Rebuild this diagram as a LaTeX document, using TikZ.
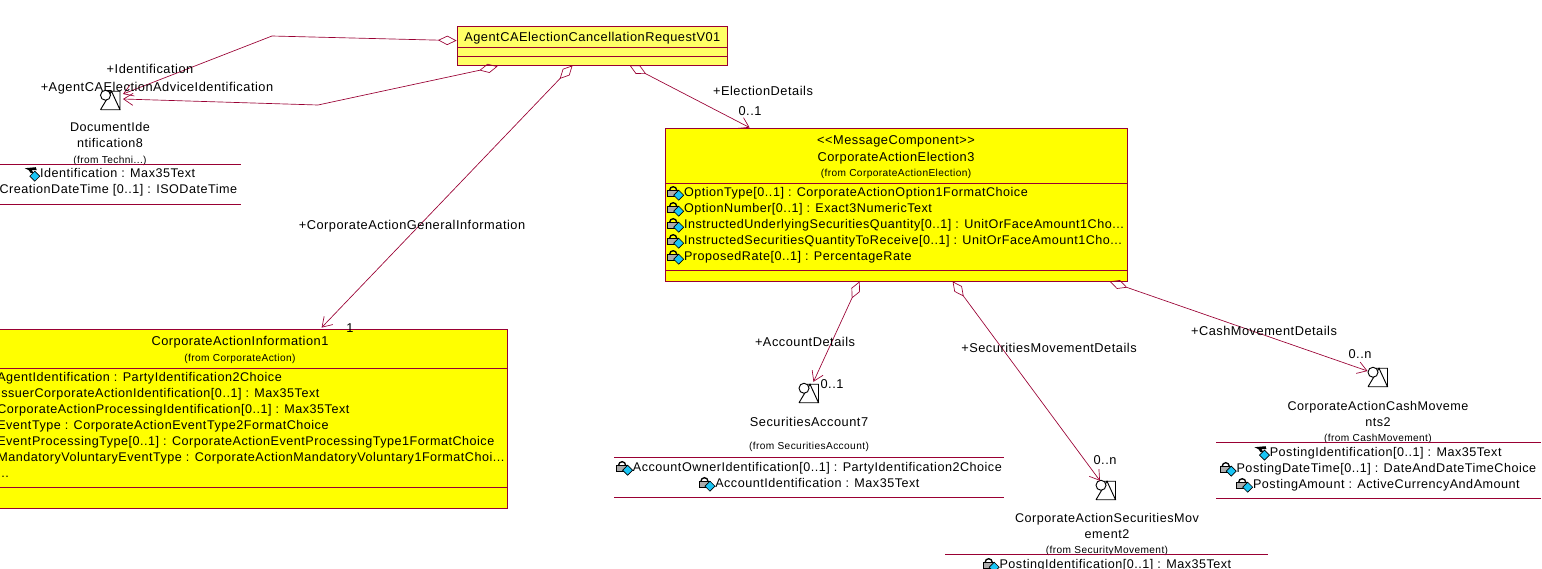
\documentclass[tikz,border=0pt]{standalone}
\usepackage{fontspec}
\setmainfont[LetterSpace=4]{Liberation Sans}
\usepackage{xcolor}
\usetikzlibrary{calc,arrows.meta}
\definecolor{maroon}{HTML}{990033}
\definecolor{classfill}{HTML}{FFFF00}
\definecolor{rootfill}{HTML}{FFFF66}
\definecolor{tagblue}{HTML}{19C5F5}
\newcommand{\tagdiamond}{\fill[tagblue,draw=black,line width=.5pt] (11,4) -- (16,9) -- (11,14) -- (6,9) -- cycle;}
\newcommand{\lockicon}{%
  \smash{\tikz[x=.75pt,y=-.75pt,baseline={(0,10)}]{
    \draw[line width=1pt] (2,4) arc[start angle=180,end angle=360,radius=3.5];
    \fill[gray!65,draw=black,line width=.6pt] (0,4) rectangle (11,10);
    \tagdiamond}}}
\newcommand{\haticon}{%
  \smash{\tikz[x=.75pt,y=-.75pt,baseline={(0,10)}]{
    \fill[black] (1,1) -- (12,0) -- (13,3) -- (8,3) -- (10,6) -- (7,6) -- (5,3) -- cycle;
    \tagdiamond}}}
\newcommand{\utilityicon}{%
  \tikz[x=.75pt,y=-.75pt]{
    \draw[line width=.7pt] (8,1) -- (19.5,1) -- (19.5,19.5) (0,19.5) -- (20,19.5)
      (0,19.5) -- (11,1) -- (19.5,19.5);
    \fill[white,draw=black,line width=.7pt] (5,5) circle[radius=5];}}
\tikzset{
  umltext/.style={font=\fontsize{9.6}{12}\selectfont,inner sep=0pt,yshift=-.6pt},
  attrlist/.style={umltext,font=\fontsize{9.45}{12}\selectfont,align=left,anchor=north west},
  attrmid/.style={umltext,font=\fontsize{9.45}{12}\selectfont,align=center,anchor=north},
  fromtext/.style={font=\fontsize{7.6}{9}\selectfont,inner sep=0pt,yshift=-.6pt},
  classbox/.style={draw=maroon,fill=classfill,line width=.6pt,inner sep=0pt},
  rule/.style={draw=maroon,line width=.6pt},
  assoc/.style={draw=maroon,line width=.5pt,
    {Diamond[open,length=14pt,width=7pt]}-{Straight Barb[length=7pt,width=9pt]}},
  iconbox/.style={inner sep=0pt,outer sep=0pt}}
\begin{document}
\begin{tikzpicture}[x=.75pt,y=-.75pt]
  \useasboundingbox (0,0) rectangle (1542,568);
  \clip (0,0) rectangle (1542,568);
  % class boxes
  \node[classbox,fill=rootfill,minimum width=202.5pt,minimum height=29.25pt] (request) at (592,45.5) {};
  \node[classbox,minimum width=346.5pt,minimum height=114.75pt] (election) at (896,204.5) {};
  \node[classbox,minimum width=390pt,minimum height=134.25pt] (information) at (247,418.5) {};
  \draw[rule] (457,47) -- (727,47) (457,56) -- (727,56);
  \draw[rule] (665,183) -- (1127,183) (665,270) -- (1127,270);
  \draw[rule] (-10,368) -- (507,368) (-10,487) -- (507,487);
  % icons
  \node[iconbox] (docicon) at (110.5,100) {\utilityicon};
  \node[iconbox] (accounticon) at (809,393) {\utilityicon};
  \node[iconbox] (movementicon) at (1106,490) {\utilityicon};
  \node[iconbox] (cashicon) at (1378,377) {\utilityicon};
  % connectors
  \coordinate (idbend) at (272,36);
  \coordinate (advicebend) at (318,105);
  \draw[assoc] ($(request.north west)+(0,15)$) -- (idbend) -- ($(docicon.east)+(2,-6)$);
  \draw[assoc] ($(request.south west)+(41,1)$) -- (advicebend) -- ($(docicon.east)+(2,-1)$);
  \draw[assoc] ($(request.south west)+(116,0)$) -- ($(information.north west)+(335,-1)$);
  \draw[assoc] ($(request.south west)+(173,0)$) -- ($(election.north west)+(85,0)$);
  \draw[assoc] ($(election.south west)+(195,0)$) -- ($(accounticon.north east)+(-6,-1)$);
  \draw[assoc] ($(election.south west)+(288,0)$) -- ($(movementicon.north)+(-6,1)$);
  \draw[assoc] ($(election.south west)+(445,0)$) -- ($(cashicon.west)+(0,-6)$);
  % connector labels
  \node[umltext] (lblident) at (150,68) {+Identification};
  \node[umltext] (lbladvice) at (157,87) {+AgentCAElectionAdviceIdentification};
  \node[umltext] (lblelection) at (763,90) {+ElectionDetails};
  \node[umltext] (multelection) at (750,110) {0..1};
  \node[umltext] (lblgeneral) at (412,225) {+CorporateActionGeneralInformation};
  \node[umltext] (multgeneral) at (350,327) {1};
  \node[umltext] (lblaccount) at (805,341) {+AccountDetails};
  \node[umltext] (multaccount) at (832,383) {0..1};
  \node[umltext] (lblmovement) at (1049,347) {+SecuritiesMovementDetails};
  \node[umltext] (multmovement) at (1105,459) {0..n};
  \node[umltext] (lblcash) at (1264,330) {+CashMovementDetails};
  \node[umltext] (multcash) at (1360,353) {0..n};
  % class texts
  \node[umltext,anchor=west] (requestname) at (464,37) {AgentCAElectionCancellationRequestV01};
  \node[umltext] (electionstereo) at (896,141) {<{}<MessageComponent>{}>};
  \node[umltext] (electionname) at (896,157) {CorporateActionElection3};
  \node[fromtext] (electionfrom) at (896,173) {(from CorporateActionElection)};
  \node[attrlist] (electionattrs) at (667,186) {\lockicon OptionType[0..1] : CorporateActionOption1FormatChoice\\
    \lockicon OptionNumber[0..1] : Exact3NumericText\\
    \lockicon InstructedUnderlyingSecuritiesQuantity[0..1] : UnitOrFaceAmount1Cho...\\
    \lockicon InstructedSecuritiesQuantityToReceive[0..1] : UnitOrFaceAmount1Cho...\\
    \lockicon ProposedRate[0..1] : PercentageRate};
  \node[umltext] (informationname) at (240,341) {CorporateActionInformation1};
  \node[fromtext] (informationfrom) at (240,358) {(from CorporateAction)};
  \node[attrlist] (informationattrs) at (-3,371) {AgentIdentification : PartyIdentification2Choice\\
    IssuerCorporateActionIdentification[0..1] : Max35Text\\
    CorporateActionProcessingIdentification[0..1] : Max35Text\\
    EventType : CorporateActionEventType2FormatChoice\\
    EventProcessingType[0..1] : CorporateActionEventProcessingType1FormatChoice\\
    MandatoryVoluntaryEventType : CorporateActionMandatoryVoluntary1FormatChoi...\\
    ...};
  % utility classes
  \node[attrmid] (docname) at (110,121) {DocumentIde\\ntification8};
  \node[fromtext] (docfrom) at (110,160) {(from Techni...)};
  \draw[rule] (0,164) -- (241,164) (0,204) -- (241,204);
  \node[attrmid] (docattrs) at (110,167) {\haticon Identification : Max35Text\\
    \lockicon CreationDateTime [0..1] : ISODateTime};
  \node[umltext] (accountname) at (809,421) {SecuritiesAccount7};
  \node[fromtext] (accountfrom) at (809,446) {(from SecuritiesAccount)};
  \draw[rule] (614,457) -- (1004,457) (614,497) -- (1004,497);
  \node[attrmid] (accountattrs) at (809,461) {\lockicon AccountOwnerIdentification[0..1] : PartyIdentification2Choice\\
    \lockicon AccountIdentification : Max35Text};
  \node[attrmid] (movementname) at (1107,512) {CorporateActionSecuritiesMov\\ement2};
  \node[fromtext] (movementfrom) at (1107,550) {(from SecurityMovement)};
  \draw[rule] (945,554) -- (1268,554);
  \node[attrmid] (movementattrs) at (1107,558) {\lockicon PostingIdentification[0..1] : Max35Text};
  \node[attrmid] (cashname) at (1378,400) {CorporateActionCashMoveme\\nts2};
  \node[fromtext] (cashfrom) at (1378,438) {(from CashMovement)};
  \draw[rule] (1216,442) -- (1541,442) (1216,498) -- (1541,498);
  \node[attrmid] (cashattrs) at (1378,446) {\haticon PostingIdentification[0..1] : Max35Text\\
    \lockicon PostingDateTime[0..1] : DateAndDateTimeChoice\\
    \lockicon PostingAmount : ActiveCurrencyAndAmount};
\end{tikzpicture}
\end{document}
